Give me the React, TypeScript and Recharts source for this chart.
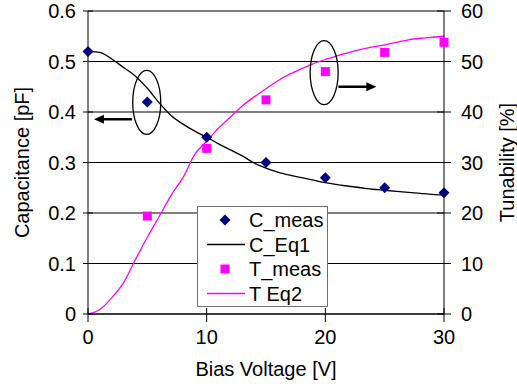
import React from 'react';
import {
  ComposedChart, Line, Scatter, XAxis, YAxis, CartesianGrid, ReferenceDot, ReferenceLine,
} from 'recharts';

// bias voltage grid for the fitted curves
const VOLTS = [0, 1, 2, 3, 4, 5, 6, 7, 8, 9, 10, 11, 12, 13, 14, 15, 16, 17, 18, 19, 20, 21, 22, 23, 24, 25, 26, 27, 28, 29, 30];
const C_EQ1 = [0.52, 0.518, 0.505, 0.488, 0.471, 0.447, 0.418, 0.393, 0.376, 0.362, 0.35, 0.337, 0.325, 0.313, 0.299, 0.289, 0.281, 0.275, 0.27, 0.265, 0.26, 0.256, 0.253, 0.25, 0.247, 0.245, 0.243, 0.241, 0.239, 0.237, 0.236];
const T_EQ2 = [0, 0.9, 3.2, 6.2, 10.8, 15.2, 19.3, 23.5, 27, 31.6, 34.2, 36.8, 39, 41.2, 43, 44.6, 46.2, 47.5, 48.6, 49.6, 50.4, 51.1, 51.8, 52.4, 52.9, 53.3, 53.8, 54.3, 54.6, 54.8, 55];

// measurements
const C_VOLTS = [0, 5, 10, 15, 20, 25, 30];
const C_MEAS = [0.52, 0.42, 0.35, 0.3, 0.27, 0.25, 0.24];
const T_VOLTS = [5, 10, 15, 20, 25, 30];
const T_MEAS = [19.4, 32.8, 42.4, 48, 51.8, 53.8];

const X_TICKS = [0, 10, 20, 30];
const C_TICKS = [0, 0.1, 0.2, 0.3, 0.4, 0.5, 0.6];
const T_TICKS = [0, 10, 20, 30, 40, 50, 60];

const FONT = 'Arial, "Liberation Sans", sans-serif';
const NAVY = '#000080';
const MAGENTA = '#FF00FF';

const curveData = VOLTS.map((v, i) => ({ v, c: C_EQ1[i], t: T_EQ2[i] }));
const cMeasData = C_VOLTS.map((v, i) => ({ v, c: C_MEAS[i] }));
const tMeasData = T_VOLTS.map((v, i) => ({ v, t: T_MEAS[i] }));

const fmt = (n: number) => String(Number(n.toFixed(1)));

const LeftTick = ({ x, y, payload }: any) => (
  <g>
    <line x1={x - 5} x2={x + 5} y1={y} y2={y} stroke="#000" />
    <text x={x - 12} y={y + 7} textAnchor="end" fontSize={20} fontFamily={FONT} fill="#000">{fmt(payload.value)}</text>
  </g>
);

const RightTick = ({ x, y, payload }: any) => (
  <g>
    <line x1={x - 7} x2={x + 7} y1={y} y2={y} stroke="#000" />
    <text x={x + 17} y={y + 7} textAnchor="start" fontSize={20} fontFamily={FONT} fill="#000">{fmt(payload.value)}</text>
  </g>
);

const BottomTick = ({ x, y, payload }: any) => (
  <g>
    <line x1={x} x2={x} y1={y - 6} y2={y + 8} stroke="#000" />
    <text x={x} y={y + 30} textAnchor="middle" fontSize={20} fontFamily={FONT} fill="#000">{fmt(payload.value)}</text>
  </g>
);

const Diamond = ({ cx, cy }: any) => (
  <path d={`M${cx},${cy - 5.5}L${cx + 5.5},${cy}L${cx},${cy + 5.5}L${cx - 5.5},${cy}Z`} fill={NAVY} />
);

const Square = ({ cx, cy }: any) => (
  <rect x={cx - 4.5} y={cy - 4.5} width={9} height={9} fill={MAGENTA} />
);

const Ellipse = ({ cx, cy }: any) => (
  <ellipse cx={cx} cy={cy} rx={14} ry={32} fill="none" stroke="#000" strokeWidth={1.3} />
);

const Arrow = (props: any) => {
  const { x1, y1, x2, y2 } = props;
  const dir = x2 > x1 ? 1 : -1;
  return (
    <g>
      <line x1={x1} y1={y1} x2={x2 - dir * 6} y2={y2} stroke="#000" strokeWidth={2.5} />
      <path d={`M${x2},${y2}L${x2 - dir * 10},${y2 - 4.5}L${x2 - dir * 10},${y2 + 4.5}Z`} fill="#000" />
    </g>
  );
};

const LegendBox = () => {
  const rows = [
    { name: 'C_meas', kind: 'diamond' },
    { name: 'C_Eq1', kind: 'line', color: '#000' },
    { name: 'T_meas', kind: 'square' },
    { name: 'T Eq2', kind: 'line', color: MAGENTA },
  ];
  return (
    <div style={{ position: 'absolute', left: 197, top: 206, width: 131, height: 101, border: '1px solid #707070', background: '#fff', boxSizing: 'border-box' }}>
      <svg width={129} height={99} style={{ display: 'block' }}>
        {rows.map((r, i) => {
          const cy = 13 + i * 24.5;
          return (
            <g key={r.name}>
              {r.kind === 'diamond' && <Diamond cx={27} cy={cy} />}
              {r.kind === 'square' && <Square cx={27} cy={cy} />}
              {r.kind === 'line' && <line x1={9} x2={47} y1={cy} y2={cy} stroke={r.color} strokeWidth={1.3} />}
              <text x={51} y={cy + 7} fontSize={20} fontFamily={FONT} fill="#000">{r.name}</text>
            </g>
          );
        })}
      </svg>
    </div>
  );
};

export default function App() {
  return (
    <div style={{ position: 'fixed', left: 0, top: 0, width: 517, height: 387, background: '#fff' }}>
      <ComposedChart width={517} height={387} margin={{ top: 11, right: 0, bottom: 0, left: 0 }}>
        <CartesianGrid yAxisId="c" vertical={false} stroke="#000" strokeWidth={1} />
        <XAxis
          dataKey="v" type="number" domain={[0, 30]} ticks={X_TICKS} height={73}
          tickSize={0} tickMargin={0} tickLine={false} tick={<BottomTick />}
          axisLine={{ stroke: '#000' }}
          label={{ value: 'Bias Voltage [V]', position: 'center', dy: 18, fontSize: 20, fontFamily: FONT, fill: '#000' }}
        />
        <YAxis
          yAxisId="c" domain={[0, 0.6]} ticks={C_TICKS} width={88}
          tickSize={0} tickMargin={0} tickLine={false} tick={<LeftTick />}
          axisLine={{ stroke: '#000' }}
          label={{ value: 'Capacitance [pF]', angle: -90, position: 'center', dx: -22, fontSize: 20, fontFamily: FONT, fill: '#000' }}
        />
        <YAxis
          yAxisId="t" orientation="right" domain={[0, 60]} ticks={T_TICKS} width={73}
          tickSize={0} tickMargin={0} tickLine={false} tick={<RightTick />}
          axisLine={{ stroke: '#000' }}
          label={{ value: 'Tunability [%]', angle: -90, position: 'center', dx: 26, fontSize: 20, fontFamily: FONT, fill: '#000' }}
        />
        <Line yAxisId="c" data={curveData} dataKey="c" name="C_Eq1" type="monotone" stroke="#000" strokeWidth={1.3} dot={false} isAnimationActive={false} />
        <Line yAxisId="t" data={curveData} dataKey="t" name="T Eq2" type="monotone" stroke={MAGENTA} strokeWidth={1.3} dot={false} isAnimationActive={false} />
        <Scatter yAxisId="c" data={cMeasData} dataKey="c" name="C_meas" shape={<Diamond />} isAnimationActive={false} />
        <Scatter yAxisId="t" data={tMeasData} dataKey="t" name="T_meas" shape={<Square />} isAnimationActive={false} />
        <ReferenceDot yAxisId="c" x={4.95} y={0.419} shape={<Ellipse />} ifOverflow="visible" />
        <ReferenceLine yAxisId="c" segment={[{ x: 3.7, y: 0.3855 }, { x: 0.5, y: 0.3855 }]} shape={<Arrow />} ifOverflow="visible" />
        <ReferenceDot yAxisId="t" x={19.9} y={47.8} shape={<Ellipse />} ifOverflow="visible" />
        <ReferenceLine yAxisId="t" segment={[{ x: 21.1, y: 45 }, { x: 24.3, y: 45 }]} shape={<Arrow />} ifOverflow="visible" />
      </ComposedChart>
      <LegendBox />
    </div>
  );
}
